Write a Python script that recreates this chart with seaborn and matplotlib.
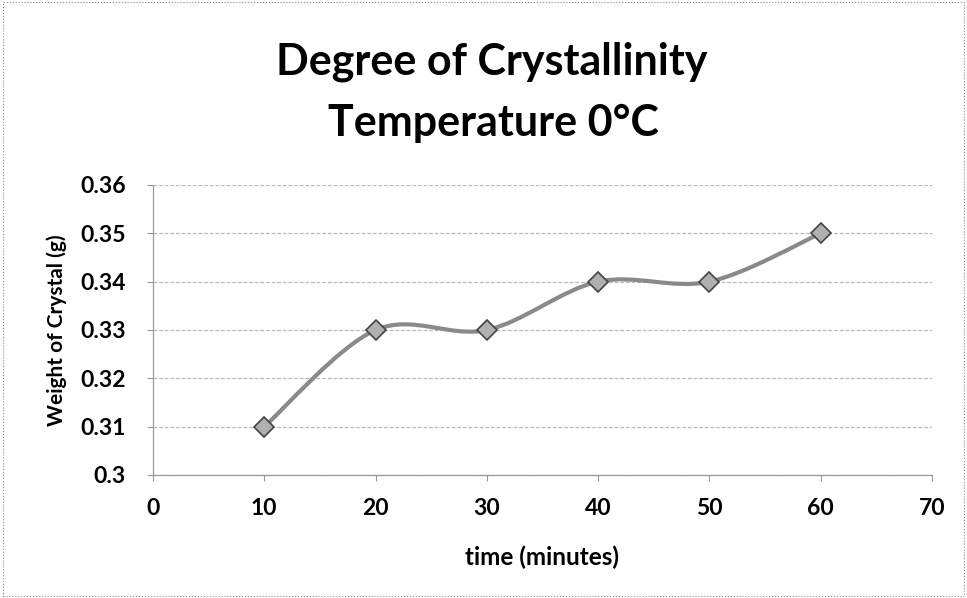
import matplotlib
matplotlib.use("Agg")
import matplotlib.pyplot as plt
import seaborn as sns
import numpy as np
import pandas as pd
from matplotlib.path import Path
from matplotlib.patches import PathPatch, Rectangle

time_min = [10, 20, 30, 40, 50, 60]
weight_g = [0.31, 0.33, 0.33, 0.34, 0.34, 0.35]
x_ticks = [0, 10, 20, 30, 40, 50, 60, 70]
y_ticks = [0.30, 0.31, 0.32, 0.33, 0.34, 0.35, 0.36]
y_tick_labels = ["0.3", "0.31", "0.32", "0.33", "0.34", "0.35", "0.36"]
title_lines = ["Degree of Crystallinity", "Temperature 0°C"]

sns.set_theme(style="white")
plt.rcParams['font.family'] = ['Lato', 'DejaVu Sans']
plt.rcParams['text.color'] = 'black'
plt.rcParams['axes.labelcolor'] = 'black'
plt.rcParams['xtick.color'] = 'black'
plt.rcParams['ytick.color'] = 'black'

W, H = 967, 598
fig = plt.figure(figsize=(W / 100, H / 100), dpi=100)
ax = fig.add_axes([153 / W, 1 - 475 / H, (932 - 153) / W, (475 - 185) / H])

df = pd.DataFrame({"time": time_min, "weight": weight_g})

# smooth (Excel-style) curve through the data points
xs = np.array(time_min, float)
ys = np.array(weight_g, float)
verts = [(xs[0], ys[0])]
codes = [Path.MOVETO]
n = len(xs)
for i in range(n - 1):
    p0x, p0y = (xs[i - 1], ys[i - 1]) if i > 0 else (xs[i], ys[i])
    p3x, p3y = (xs[i + 2], ys[i + 2]) if i + 2 < n else (xs[i + 1], ys[i + 1])
    c1 = (xs[i] + (xs[i + 1] - p0x) / 6, ys[i] + (ys[i + 1] - p0y) / 6)
    c2 = (xs[i + 1] - (p3x - xs[i]) / 6, ys[i + 1] - (p3y - ys[i]) / 6)
    verts += [c1, c2, (xs[i + 1], ys[i + 1])]
    codes += [Path.CURVE4] * 3
ax.add_patch(PathPatch(Path(verts, codes), facecolor="none", edgecolor="#8a8a8a",
                       lw=3, zorder=3))

sns.lineplot(data=df, x="time", y="weight", ax=ax, linestyle="", marker="D",
             markersize=10, color="#b0b0b0", markeredgecolor="#444444",
             markeredgewidth=1.2, zorder=4)

ax.set_xlim(0, 70)
ax.set_ylim(0.30, 0.36)
ax.set_xticks(x_ticks)
ax.set_xticklabels([str(t) for t in x_ticks])
ax.set_yticks(y_ticks)
ax.set_yticklabels(y_tick_labels)
for lbl in ax.get_xticklabels() + ax.get_yticklabels():
    lbl.set_fontweight("bold")
    lbl.set_fontsize(16.5)
ax.tick_params(axis="x", bottom=True, direction="out", length=4.5, color="#999999",
               pad=12, width=0.8)
ax.tick_params(axis="y", left=True, direction="out", length=4.5, color="#999999",
               pad=15, width=0.8)
ax.yaxis.grid(True, color="#bbbbbb", lw=0.9, ls=(0, (3, 1.5)))
ax.xaxis.grid(False)
for s in ["top", "right"]:
    ax.spines[s].set_visible(False)
for s in ["left", "bottom"]:
    ax.spines[s].set_color("#999999")
    ax.spines[s].set_linewidth(0.9)

ax.set_xlabel("time (minutes)", fontsize=17.5, fontweight="bold")
ax.set_ylabel("Weight of Crystal (g)", fontsize=15, fontweight="bold")
ax.xaxis.set_label_coords((542 - 153) / 779, (475 - 557) / 290)
ax.yaxis.set_label_coords((57 - 153) / 779, 0.5)
ax.xaxis.label.set_va("center")
ax.yaxis.label.set_va("center")

fig.text(492 / W, 1 - 75 / H, title_lines[0], ha="center", va="baseline",
         fontsize=31, fontweight="bold")
fig.text(493 / W, 1 - 136 / H, title_lines[1], ha="center", va="baseline",
         fontsize=31, fontweight="bold")

fig.patches.append(Rectangle((0.003, 0.003), 0.994, 0.994, transform=fig.transFigure,
                             fill=False, edgecolor="#888888", lw=0.8, ls=":"))

fig.savefig("out.png", dpi=100)
